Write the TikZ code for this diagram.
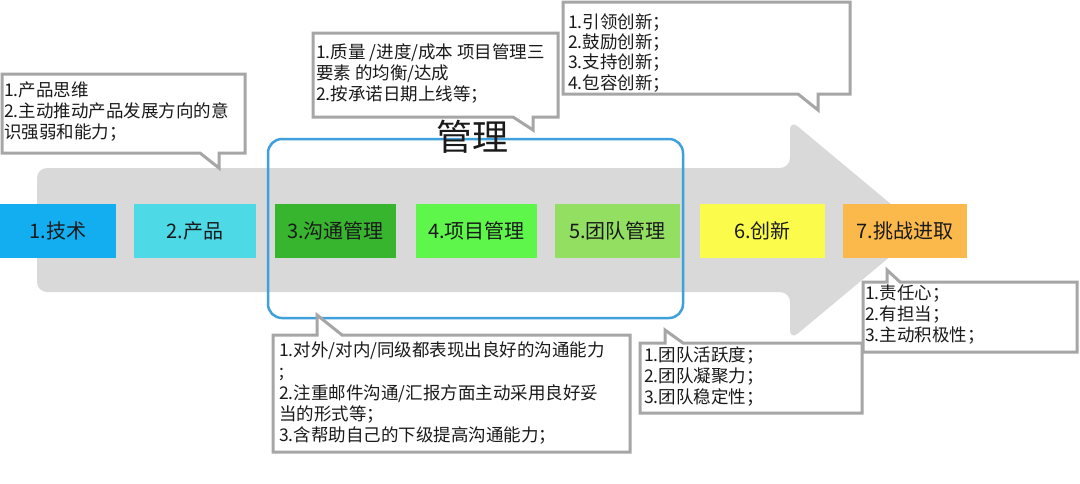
\documentclass[tikz,border=0pt]{standalone}
\usepackage{fontspec}
\setmainfont{Noto Sans CJK SC}
\definecolor{arrowgray}{HTML}{D9D9D9}
\definecolor{calloutgray}{HTML}{A6A6A6}
\definecolor{framecol}{HTML}{3EA1DC}
\definecolor{txt}{HTML}{1A1A1A}
\definecolor{cA}{HTML}{12AEF0}
\definecolor{cB}{HTML}{4DD9E6}
\definecolor{cC}{HTML}{38B52E}
\definecolor{cD}{HTML}{5FF64C}
\definecolor{cE}{HTML}{92DF62}
\definecolor{cF}{HTML}{FBFB4B}
\definecolor{cG}{HTML}{FBB84B}
\begin{document}
\begin{tikzpicture}[x=1pt,y=-1pt,
  callout/.style={draw=calloutgray, line width=3pt, fill=white, line join=miter},
  ctext/.style={anchor=north west, inner sep=0pt, align=left, text=txt, font=\fontsize{17.5}{21}\selectfont},
  stepbox/.style={minimum height=54pt, inner sep=0pt, text=txt, font=\fontsize{20}{24}\selectfont},
]
\useasboundingbox (0,0) rectangle (1080,483);
\fill[white] (0,0) rectangle (1080,483);
% big arrow
\fill[arrowgray, rounded corners=10pt] (37,168) -- (790,168) -- (790,120) -- (922,230) -- (790,340) -- (790,292) -- (37,292) -- cycle;
% management frame
\draw[framecol, line width=2.5pt, rounded corners=14pt] (268,139) rectangle (683,318);
\node[inner sep=0pt, text=txt, font=\fontsize{36}{40}\selectfont] (mgmt) at (472,137) {管理};
% step boxes
\node[stepbox, fill=cA, minimum width=116pt] (s1) at (58,231) {1.技术};
\node[stepbox, fill=cB, minimum width=122pt] (s2) at (195,231) {2.产品};
\node[stepbox, fill=cC, minimum width=121pt] (s3) at (335.5,231) {3.沟通管理};
\node[stepbox, fill=cD, minimum width=121pt] (s4) at (476.5,231) {4.项目管理};
\node[stepbox, fill=cE, minimum width=125pt] (s5) at (617.5,231) {5.团队管理};
\node[stepbox, fill=cF, minimum width=125pt] (s6) at (762.5,231) {6.创新};
\node[stepbox, fill=cG, minimum width=124pt] (s7) at (905,231) {7.挑战进取};
% callout A
\draw[callout] (2,74) -- (245,74) -- (245,153) -- (219,153) -- (219,168) -- (200,153) -- (2,153) -- cycle;
\node[ctext] (ta) at (4,81.5) {1.产品思维\\2.主动推动产品发展方向的意\\识强弱和能力；};
% callout B
\draw[callout] (313,33) -- (558,33) -- (558,117) -- (533,117) -- (533,130) -- (513,117) -- (313,117) -- cycle;
\node[ctext] (tb) at (316,43.5) {1.质量 /进度/成本 项目管理三\\要素 的均衡/达成\\2.按承诺日期上线等；};
% callout C
\draw[callout] (563,2) -- (850,2) -- (850,94) -- (818,94) -- (818,110) -- (798,94) -- (563,94) -- cycle;
\node[ctext, font=\fontsize{17.5}{20.2}\selectfont] (tc) at (568,13.5) {1.引领创新；\\2.鼓励创新；\\3.支持创新；\\4.包容创新；};
% callout D
\draw[callout] (273,335) -- (317,335) -- (317,315) -- (342,335) -- (630,335) -- (630,452) -- (273,452) -- cycle;
\node[ctext, font=\fontsize{17.5}{21.25}\selectfont] (td) at (279,341.5) {1.对外/对内/同级都表现出良好的沟通能力\\;\\2.注重邮件沟通/汇报方面主动采用良好妥\\当的形式等；\\3.含帮助自己的下级提高沟通能力；};
% callout E
\draw[callout] (640,343) -- (665,343) -- (665,330) -- (683,343) -- (862,343) -- (862,413) -- (640,413) -- cycle;
\node[ctext] (te) at (644,346.5) {1.团队活跃度；\\2.团队凝聚力；\\3.团队稳定性；};
% callout F
\draw[callout] (863,282) -- (887,282) -- (887,270) -- (900,282) -- (1077,282) -- (1077,352) -- (863,352) -- cycle;
\node[ctext] (tf) at (865,284.5) {1.责任心；\\2.有担当；\\3.主动积极性；};
\end{tikzpicture}
\end{document}
